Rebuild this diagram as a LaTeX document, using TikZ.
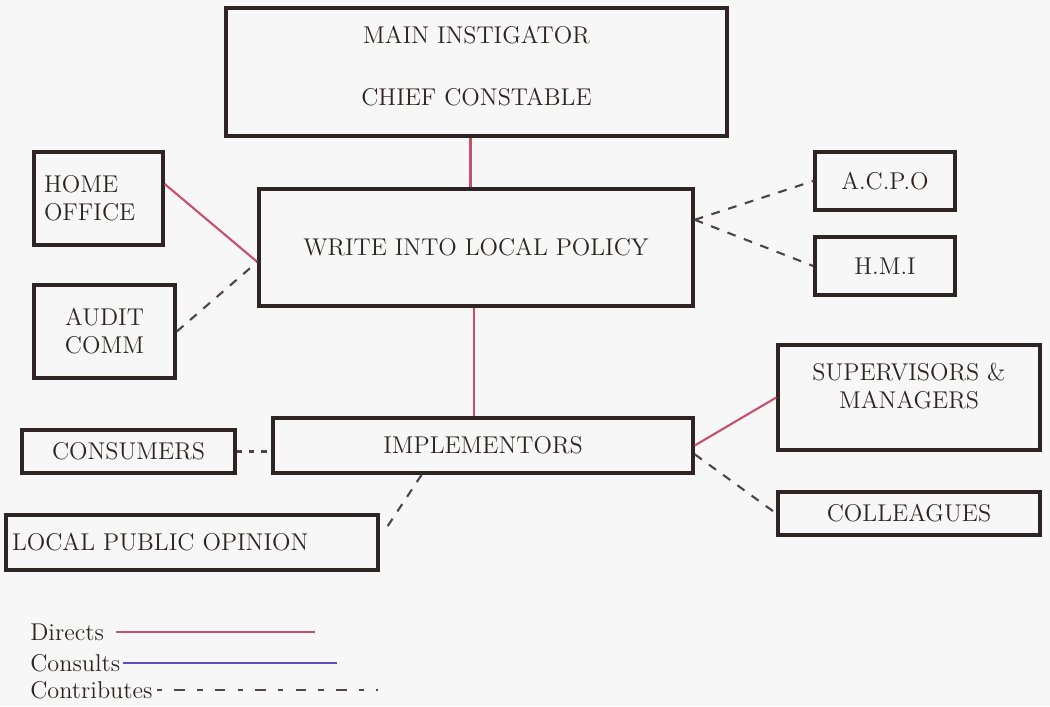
\documentclass[tikz,border=0pt]{standalone}
\usepackage{tikz}
\usetikzlibrary{calc}

\definecolor{directs}{HTML}{C8506A}
\definecolor{consults}{HTML}{5A50C0}
\definecolor{ink}{HTML}{2E2424}

\begin{document}
\begin{tikzpicture}[x=0.02cm, y=-0.02cm,
  every node/.style={font=\fontsize{13.8}{16}\selectfont, text=ink},
  org/.style={draw=ink, line width=2pt, inner sep=0pt, align=center},
  dir/.style={directs, line width=1.2pt},
  cons/.style={consults, line width=1.2pt},
  contr/.style={ink!85, line width=1.2pt, dash pattern=on 5pt off 5pt}]
  \useasboundingbox[fill=black!3] (0,0) rectangle (1050,706);

  % policy chain
  \node[org, minimum width=10.02cm, minimum height=2.56cm] (main) at (476.5,72)
    {MAIN INSTIGATOR\\[19pt]CHIEF CONSTABLE\\[-9pt]\mbox{}};
  \node[org, minimum width=8.68cm, minimum height=2.34cm] (write) at (476,247.5)
    {WRITE INTO LOCAL POLICY};
  \node[org, minimum width=8.4cm, minimum height=1.1cm] (impl) at (483,445.5)
    {IMPLEMENTORS};

  % left side
  \node[org, minimum width=2.58cm, minimum height=1.86cm, inner xsep=0.2cm,
    text width=2.18cm, align=left] (home) at (98.5,198.5) {HOME\\OFFICE};
  \node[org, minimum width=2.82cm, minimum height=1.86cm] (audit) at (104.5,331.5)
    {AUDIT\\COMM};
  \node[org, minimum width=4.26cm, minimum height=0.86cm] (consumers) at (128.5,451.5)
    {CONSUMERS};
  \node[org, minimum width=7.44cm, minimum height=1.1cm, inner xsep=0.12cm,
    text width=7.2cm, align=left] (opinion) at (192,542.5) {LOCAL PUBLIC OPINION};

  % right side
  \node[org, minimum width=2.8cm, minimum height=1.16cm] (acpo) at (885,181) {A.C.P.O};
  \node[org, minimum width=2.8cm, minimum height=1.16cm] (hmi) at (885,266) {H.M.I};
  \node[org, minimum width=5.24cm, minimum height=2.1cm] (super) at (909,397.5)
    {SUPERVISORS \&\\MANAGERS\\[-3pt]\mbox{}};
  \node[org, minimum width=5.24cm, minimum height=0.86cm] (colleagues) at (909,513.5)
    {COLLEAGUES};

  % directs
  \draw[dir] ($(main.south)+(-6,0)$) -- ($(main.south |- write.north)+(-6,0)$);
  \draw[dir] ($(write.south)+(-2,0)$) -- ($(write.south |- impl.north)+(-2,0)$);
  \draw[dir] ($(home.north east)!0.35!(home.south east)$)
    -- ($(write.north west)!0.62!(write.south west)$);
  \draw[dir] (impl.east) -- (super.west);

  % contributes
  \draw[contr] (audit.east) -- ($(write.north west)!0.62!(write.south west)$);
  \draw[contr] ($(write.north east)!0.27!(write.south east)$) -- (acpo.west);
  \draw[contr] ($(write.north east)!0.27!(write.south east)$) -- (hmi.west);
  \draw[contr, dash pattern=on 3pt off 4pt] (consumers.east) -- (consumers.east -| impl.west);
  \draw[contr] ($(impl.south west)!0.355!(impl.south east)$)
    -- ($(opinion.north east)!0.27!(opinion.south east)+(6,0)$);
  \draw[contr] ($(impl.north east)!0.65!(impl.south east)$) -- (colleagues.west);

  % legend
  \node[anchor=west, inner sep=0pt] (ldir) at (30,632) {Directs};
  \node[anchor=west, inner sep=0pt] (lcons) at (30,663) {Consults};
  \node[anchor=west, inner sep=0pt] (lcontr) at (30,690) {Contributes};
  \coordinate (edir) at (315,632);
  \coordinate (econs) at (337,663);
  \coordinate (econtr) at (378,690);
  \draw[dir] ($(ldir.east)+(12,0)$) -- (edir);
  \draw[cons] ($(lcons.east)+(2,0)$) -- (econs);
  \draw[contr, dash pattern=on 3pt off 7pt on 6pt off 7pt] ($(lcontr.east)+(4,0)$) -- (econtr);
\end{tikzpicture}
\end{document}
